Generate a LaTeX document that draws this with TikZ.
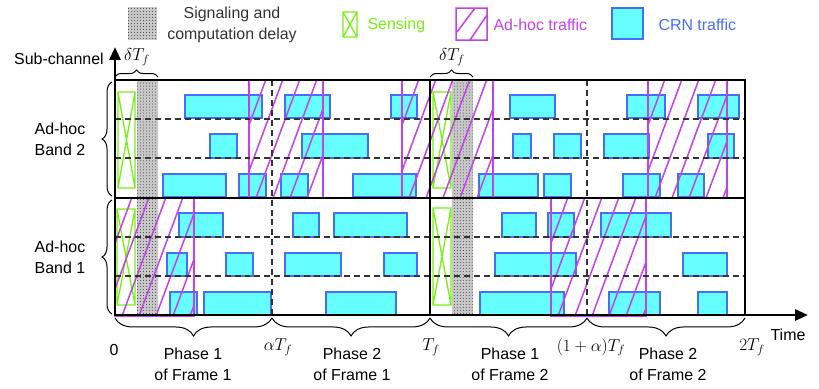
\documentclass[tikz,border=0pt]{standalone}
\usepackage{fontspec}
\setmainfont{Liberation Sans}
\usetikzlibrary{patterns,decorations.pathreplacing,arrows.meta}
\definecolor{crnfill}{RGB}{102,255,255}
\definecolor{crnline}{RGB}{70,110,250}
\definecolor{adhoc}{RGB}{195,65,235}
\definecolor{sense}{RGB}{120,240,20}
\definecolor{delaygray}{RGB}{200,200,200}
\tikzset{
  crn/.style={fill=crnfill,draw=crnline,line width=1.4},
  adhocline/.style={draw=adhoc,line width=1.5},
  senseline/.style={draw=sense,line width=1.3},
  subline/.style={dash pattern=on 6pt off 4pt,line width=1.2,black!80},
  frameline/.style={line width=2.8},
  bracket/.style={decorate,decoration={brace,amplitude=#1},line width=1},
  mbracket/.style={decorate,decoration={brace,mirror,amplitude=#1},line width=1},
  lbl/.style={font=\fontsize{16}{21}\selectfont,align=center},
  mlbl/.style={font=\fontsize{17}{20}\selectfont},
}
\newcommand{\adhocbox}[4]{%
  \begin{scope}
    \clip (#1,#2) rectangle (#3,#4);
    \pgfmathsetmacro{\hrun}{(#4-#2)/2.7}
    \foreach \i in {0,...,9}{
      \pgfmathsetmacro{\hx}{#1-44+17*\i}
      \draw[adhocline] (\hx,#4) -- (\hx+\hrun,#2);
    }
  \end{scope}
  \draw[adhocline] (#1,#2) rectangle (#3,#4);}
\newcommand{\sensebox}[4]{%
  \draw[senseline] (#1,#2) rectangle (#3,#4) (#1,#2) -- (#3,#4) (#1,#4) -- (#3,#2);}
\newcommand{\delaystrip}[4]{%
  \fill[delaygray] (#1,#2) rectangle (#3,#4);
  \fill[pattern=dots,pattern color=black!75] (#1,#2) rectangle (#3,#4);}
\begin{document}
\begin{tikzpicture}[x=1bp,y=-1bp]
  \useasboundingbox (0,0) rectangle (819,388);
  \coordinate (o) at (115,315);
  \coordinate (ta) at (272,315);
  \coordinate (t1) at (430,315);
  \coordinate (tb) at (587,315);
  \coordinate (t2) at (745,315);

  % legend
  \delaystrip{128}{7}{157}{40}
  \node[lbl,text=black!80] (leg-delay) at (232,25) {Signaling and\\computation delay};
  \sensebox{343}{12}{357}{37}
  \node[lbl,text=sense,anchor=west] (leg-sense) at (364,25) {Sensing};
  \draw[adhocline] (456,8) rectangle (487,40) (457,32) -- (475,8) (470,40) -- (487,15);
  \node[lbl,text=adhoc,anchor=west] (leg-adhoc) at (490,25) {Ad-hoc traffic};
  \draw[crn] (612,8) rectangle (643,39);
  \node[lbl,text=crnline,anchor=west] (leg-crn) at (655,25) {CRN traffic};

  % CRN traffic
  \foreach \a/\b/\c/\d in {185/95/262/118, 285/95/330/118, 391/95/417/118,
      210/134/237/158, 302/134/368/158,
      163/174/226/197, 239/174/266/197, 281/174/308/197, 353/174/416/197,
      510/95/555/118, 627/95/665/118, 698/95/739/118,
      513/134/531/158, 554/134/581/158, 604/134/649/158, 708/134/734/158,
      479/174/538/197, 544/174/571/197, 623/174/660/197, 678/174/704/197,
      179/213/223/237, 293/213/319/237, 334/213/407/237,
      167/253/187/276, 226/253/253/276, 285/253/341/276, 384/253/417/276,
      170/292/197/315, 204/292/271/315, 326/292/396/315,
      502/213/536/237, 548/213/574/237, 601/213/671/237,
      495/253/576/276, 683/253/727/276,
      480/292/564/315, 609/292/660/315, 698/292/727/315}
    \draw[crn] (\a,\b) rectangle (\c,\d);

  % delay and sensing
  \delaystrip{137}{80}{158}{315}
  \delaystrip{452}{80}{473}{315}
  \sensebox{118}{92}{135}{188}
  \sensebox{117}{209}{135}{305}
  \sensebox{433}{92}{451}{188}
  \sensebox{433}{208}{451}{305}

  % ad-hoc traffic
  \adhocbox{249}{80}{323}{198}
  \adhocbox{402}{80}{493}{198}
  \adhocbox{648}{80}{727}{198}
  \adhocbox{115}{198}{194}{316}
  \adhocbox{551}{198}{646}{316}

  % sub-channels and phases
  \foreach \y in {119,158,237,276}
    \draw[subline] (115,\y) -- (745,\y);
  \draw[subline] (272,80) -- (ta);
  \draw[subline] (587,80) -- (tb);

  % frames
  \draw[frameline] (115,80) -- (745,80) -- (t2);
  \draw[frameline] (115,198) -- (745,198);
  \draw[frameline] (430,80) -- (t1);
  \draw[line width=2.8,-{Triangle[length=13pt,width=11pt]}] ([yshift=-1bp]o) -- (115,47);
  \draw[line width=2.8,-{Triangle[length=13pt,width=11pt]}] ([xshift=-1bp]o) -- (808,315);
  \node[lbl] (ylab) at (59,59) {Sub-channel};
  \node[lbl] (xlab) at (788,335) {Time};

  % braces
  \draw[bracket=7pt] (115,77) -- (158,77);
  \node[mlbl] (d1) at (137,57) {$\delta T_f$};
  \draw[bracket=7pt] (430,77) -- (473,77);
  \node[mlbl] (d2) at (452,57) {$\delta T_f$};
  \draw[bracket=10pt] (112,196) -- (112,82);
  \node[lbl] (band2) at (60,139) {Ad-hoc\\Band 2};
  \draw[bracket=10pt] (112,314) -- (112,200);
  \node[lbl] (band1) at (60,257) {Ad-hoc\\Band 1};
  \draw[mbracket=18pt] ([yshift=-3bp]o) -- ([yshift=-3bp]ta);
  \draw[mbracket=18pt] ([yshift=-3bp]ta) -- ([yshift=-3bp]t1);
  \draw[mbracket=18pt] ([yshift=-3bp]t1) -- ([yshift=-3bp]tb);
  \draw[mbracket=18pt] ([yshift=-3bp]tb) -- ([yshift=-3bp]t2);

  % time labels
  \node[lbl] (l0) at (114,350) {0};
  \node[mlbl] (la) at (278,347) {$\alpha T_f$};
  \node[mlbl] (l1) at (431,347) {$T_f$};
  \node[mlbl] (lb) at (591,347) {$(1+\alpha)T_f$};
  \node[mlbl] (l2) at (752,347) {$2T_f$};
  \node[lbl] (p1) at (193,364) {Phase 1\\of Frame 1};
  \node[lbl] (p2) at (352,364) {Phase 2\\of Frame 1};
  \node[lbl] (p3) at (510,364) {Phase 1\\of Frame 2};
  \node[lbl] (p4) at (668,364) {Phase 2\\of Frame 2};
\end{tikzpicture}
\end{document}
